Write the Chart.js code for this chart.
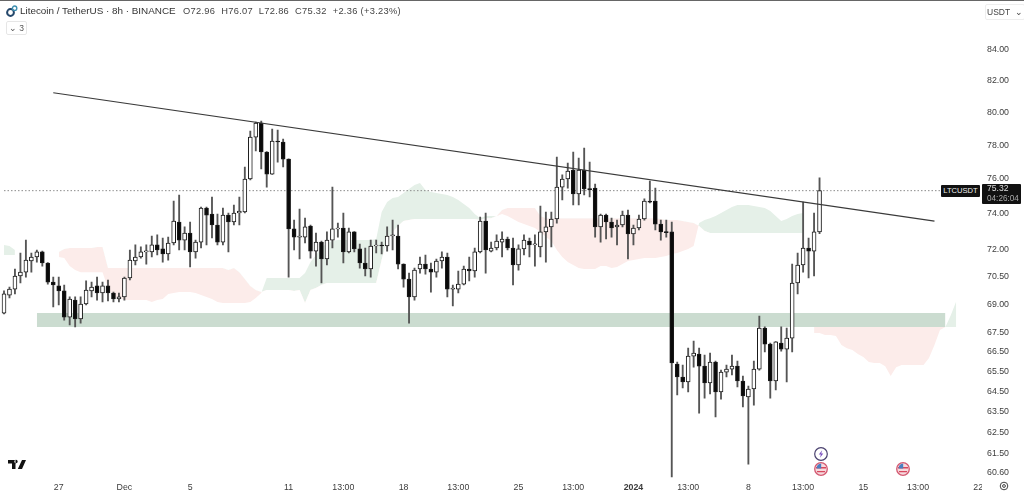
<!DOCTYPE html>
<html>
<head>
<meta charset="utf-8">
<title>LTCUSDT 8h</title>
<script src="https://cdn.jsdelivr.net/npm/chart.js@4/dist/chart.umd.js"></script>
<style>
    html, body { margin: 0; padding: 0; background: #fff; }
    #wrap { position: relative; width: 1024px; height: 494px; overflow: hidden; font-family: "Liberation Sans", sans-serif; color: #222; }
    #chart { position: absolute; left: 0; top: 0; }
    .abs { position: absolute; white-space: nowrap; }
    #topline { left: 0; top: 0; width: 1024px; height: 1px; background: #666; }
    #title { left: 20px; top: 4px; font-size: 9.9px; line-height: 14px; color: #333; }
    #ohlc { left: 183px; top: 5px; font-size: 9.3px; line-height: 13px; color: #444; letter-spacing: .3px; }
    #ohlc span { margin-right: 3px; }
    #collapse { left: 6px; top: 21px; width: 19px; height: 12px; border: 1px solid #e6e6e6; border-radius: 2px; font-size: 8.5px; line-height: 12px; color: #555; text-align: center; }
    #currency { left: 985px; top: 4px; width: 37px; height: 14px; border: 1px solid #eee; border-radius: 2px; font-size: 8.5px; line-height: 14px; color: #444; box-sizing: content-box; padding-left: 1px; }
    #sym-tag { left: 941px; top: 185px; width: 39px; height: 12px; background: #111; color: #eee; font-size: 7.6px; line-height: 12px; text-align: center; border-radius: 1px; }
    #px-tag { left: 982px; top: 184px; width: 39px; height: 20px; background: #111; color: #ddd; font-size: 8.6px; line-height: 9.5px; padding-left: 5px; box-sizing: border-box; border-radius: 1px; }
    #px-tag div:last-child { color: #aaa; font-size: 8.2px; }
    #axis-cover { left: 982px; top: 480px; width: 42px; height: 14px; background: #fff; }
    svg.abs { overflow: visible; }
</style>
</head>
<body>
<div id="wrap">
    <canvas id="chart" width="1024" height="494"></canvas>
    <div class="abs" id="topline"></div>
    <svg class="abs" style="left:6px;top:5px" width="12" height="12" viewBox="0 0 12 12">
        <circle cx="4.5" cy="7.5" r="3.4" fill="none" stroke="#24476b" stroke-width="2"/>
        <circle cx="8.6" cy="3.2" r="2.2" fill="none" stroke="#3d8fb0" stroke-width="1.4"/>
    </svg>
    <div class="abs" id="title">Litecoin / TetherUS · 8h · BINANCE</div>
    <div class="abs" id="ohlc"><span>O72.96</span> <span>H76.07</span> <span>L72.86</span> <span>C75.32</span> <span>+2.36 (+3.23%)</span></div>
    <div class="abs" id="collapse">&#8964; 3</div>
    <div class="abs" id="currency">USDT &nbsp;&#8964;</div>
    <div class="abs" id="sym-tag">LTCUSDT</div>
    <div class="abs" id="px-tag"><div>75.32</div><div>04:26:04</div></div>
    <div class="abs" id="axis-cover"></div>
    <!-- tradingview mark -->
    <svg class="abs" style="left:8px;top:460px" width="18" height="9" viewBox="0 0 18 9">
        <path d="M0 0h7.5v9H4V3.4H0zM8 3.2a1.7 1.7 0 1 0 0-3.4 1.7 1.7 0 0 0 0 3.4zM14 0h4l-4 9H9.8z" fill="#111"/>
    </svg>
    <!-- event markers -->
    <svg class="abs" style="left:813px;top:446px" width="16" height="16" viewBox="0 0 16 16">
        <circle cx="8" cy="8" r="6.3" fill="#fff" stroke="#4b4270" stroke-width="1.2"/>
        <path d="M9.2 4.2 5.8 8.6h2.1l-1 3.2 3.4-4.4H8.2z" fill="#7a4fc0"/>
    </svg>
    <svg class="abs" style="left:813px;top:461px" width="16" height="16" viewBox="0 0 16 16">
        <circle cx="8" cy="8" r="6.3" fill="#f6d9dd" stroke="#d45a72" stroke-width="1.3"/>
        <path d="M3 6h10v1.6H3z M4 10h8v1.3H4z" fill="#d8485f"/>
        <path d="M3.6 7.6a5 5 0 0 1 4.6-5v5z" fill="#4a7fc0"/>
    </svg>
    <svg class="abs" style="left:895px;top:461px" width="16" height="16" viewBox="0 0 16 16">
        <circle cx="8" cy="8" r="6.3" fill="#f6d9dd" stroke="#d45a72" stroke-width="1.3"/>
        <path d="M3 6h10v1.6H3z M4 10h8v1.3H4z" fill="#d8485f"/>
        <path d="M3.6 7.6a5 5 0 0 1 4.6-5v5z" fill="#4a7fc0"/>
    </svg>
    <svg class="abs" style="left:999px;top:481px" width="10" height="10" viewBox="0 0 10 10">
        <circle cx="5" cy="5" r="3.8" fill="none" stroke="#444" stroke-width="1"/>
        <circle cx="5" cy="5" r="1.4" fill="none" stroke="#444" stroke-width="1"/>
    </svg>
</div>
<script>
// 8h candles
const opens = [
    68.53,69.49,69.81,70.52,70.73,71.34,71.56,71.84,71.23,70.19,
    69.98,69.71,68.32,69.22,68.22,69.01,69.71,69.98,69.60,69.98,
    69.60,69.28,69.39,70.41,71.34,71.56,71.84,71.84,72.23,72.01,
    71.73,72.34,73.52,72.50,72.90,71.84,72.39,74.32,73.97,73.35,
    72.39,73.91,73.52,74.03,74.09,76.00,78.50,79.35,77.60,76.29,
    78.26,78.20,77.18,73.13,72.67,72.67,73.29,71.89,72.39,71.45,
    72.50,73.13,73.18,71.84,72.96,72.01,71.23,70.90,72.17,72.22,
    72.17,72.73,72.73,71.17,70.35,69.39,70.90,71.17,70.90,70.73,
    71.34,71.56,69.81,69.81,70.08,70.90,70.79,71.84,73.57,71.89,
    72.06,72.39,72.56,72.06,71.12,72.01,72.45,72.23,72.12,72.96,
    73.24,73.69,75.53,76.00,76.53,75.13,76.53,75.44,75.47,73.24,
    73.91,73.52,73.24,73.35,73.91,72.84,73.18,73.69,74.72,74.72,
    73.40,72.98,72.96,65.89,65.23,64.98,66.29,66.40,65.78,64.93,
    65.99,64.48,65.48,65.63,65.78,65.03,64.23,64.63,65.63,67.74,
    66.91,65.03,66.96,66.65,67.22,70.14,71.12,72.06,71.89,72.96
];
const highs = [
    69.71,69.92,70.90,71.78,72.50,71.78,71.95,71.89,71.25,70.46,
    70.46,70.03,69.39,69.39,69.39,70.25,70.19,70.46,70.19,70.30,
    69.65,69.60,70.46,71.95,72.23,72.12,72.23,72.73,72.79,72.62,
    72.67,74.72,75.07,73.24,73.52,72.50,74.37,74.37,74.95,73.97,
    74.32,74.03,74.49,74.95,76.71,78.87,79.42,79.48,77.62,78.99,
    78.93,78.38,77.20,73.63,74.26,73.74,73.35,72.90,72.45,72.96,
    75.53,73.46,74.03,73.18,72.98,72.28,72.06,72.50,72.50,72.39,
    73.24,73.63,73.35,71.19,70.68,70.95,71.56,71.67,71.23,71.45,
    71.84,71.78,70.03,70.79,71.06,71.56,72.06,73.80,74.03,72.39,
    72.79,72.96,72.67,72.62,72.23,72.79,72.62,72.79,74.43,74.09,
    74.09,77.30,76.24,76.94,77.60,77.24,77.84,77.00,75.71,73.97,
    73.97,73.74,73.63,74.14,74.20,73.35,73.91,74.84,75.88,75.47,
    73.63,73.63,73.52,65.99,65.84,66.70,67.07,66.70,66.35,66.45,
    66.04,65.58,65.84,66.35,66.04,65.28,64.78,66.04,68.37,67.80,
    66.96,67.04,67.80,67.74,71.17,71.78,74.66,72.62,74.03,76.07
];
const lows = [
    68.48,69.33,69.55,70.14,70.46,70.73,71.28,71.06,70.08,68.85,
    68.96,68.16,67.90,67.80,68.00,68.96,69.39,69.22,69.12,69.17,
    69.12,69.12,69.22,70.30,71.12,71.50,71.17,71.56,71.67,71.28,
    71.39,72.23,71.95,71.95,71.01,71.50,72.06,72.23,72.62,72.23,
    72.23,71.84,73.35,73.35,74.03,75.94,77.66,76.59,75.53,76.27,
    77.00,76.71,70.46,71.95,71.45,72.34,71.50,71.06,70.14,71.12,
    72.06,72.67,71.23,71.78,71.84,70.95,70.52,70.46,71.78,71.73,
    71.89,71.95,70.90,69.92,68.00,69.22,70.68,70.62,69.65,70.46,
    70.95,69.39,68.91,69.60,70.03,70.25,70.46,71.78,70.68,71.84,
    71.95,71.56,71.95,70.03,70.84,71.67,71.56,71.06,71.56,71.28,
    72.12,73.46,74.78,75.47,74.49,74.49,75.07,74.95,72.67,72.39,
    72.56,72.67,72.23,73.24,71.45,72.23,73.07,73.63,74.61,73.07,
    72.50,72.67,60.39,64.33,64.68,64.48,65.73,63.44,64.18,64.38,
    63.25,64.13,65.23,65.33,64.73,63.74,60.99,63.83,65.58,66.50,
    64.18,64.58,66.55,64.98,66.50,69.55,70.73,70.41,70.52,72.86
];
const closes = [
    69.55,69.81,70.52,70.73,71.39,71.56,71.84,71.23,70.19,70.03,
    69.71,68.32,69.28,68.22,69.01,69.76,69.92,69.60,69.98,69.60,
    69.28,69.39,70.41,71.39,71.56,71.84,71.90,72.23,71.95,71.73,
    72.34,73.57,72.50,72.90,71.84,72.39,74.32,73.91,73.35,72.39,
    73.91,73.52,74.03,74.14,76.00,78.50,79.35,77.60,76.29,78.26,
    78.20,77.18,73.13,72.67,72.73,73.24,71.89,72.39,71.45,72.50,
    73.13,73.18,71.84,72.96,72.01,71.23,70.90,72.17,72.22,72.17,
    72.73,72.79,71.17,70.35,69.39,70.84,71.17,70.90,70.73,71.34,
    71.56,69.81,69.87,70.08,70.90,70.79,71.84,73.57,71.95,72.06,
    72.45,72.56,72.06,71.12,72.01,72.50,72.23,72.29,72.96,73.24,
    73.69,75.53,76.00,76.47,75.13,76.53,75.42,75.38,73.24,73.91,
    73.52,73.18,73.35,73.91,72.84,73.18,73.69,74.72,74.66,73.40,
    72.96,72.92,65.94,65.23,64.98,66.29,66.45,65.78,64.93,65.99,
    64.48,65.48,65.63,65.78,65.03,64.28,64.63,65.63,67.74,66.91,
    65.03,67.02,66.65,67.22,70.14,71.12,72.06,71.89,72.96,75.32
];

// cloud edges, green where spanA is above spanB
const spanA = [
    72.23,72.17,71.95,null,null,null,null,null,null,null,
    71.56,71.50,71.06,70.84,70.73,70.73,70.73,70.73,70.73,69.87,
    69.44,69.33,69.22,69.22,69.22,69.22,69.22,69.12,69.22,69.28,
    69.55,69.60,69.65,69.65,69.65,69.60,69.49,69.39,69.28,69.12,
    69.06,69.06,69.06,69.06,69.06,69.12,69.33,69.60,70.41,70.41,
    70.41,70.41,70.41,70.41,70.41,70.68,71.28,71.67,72.06,72.34,
    72.45,72.50,72.50,72.50,72.50,72.50,72.50,72.50,72.56,74.09,
    74.66,74.90,74.95,75.19,75.42,75.65,75.77,75.36,75.24,75.19,
    75.13,75.07,74.95,74.78,74.55,74.32,73.97,73.74,73.86,73.86,
    73.86,73.97,73.86,73.69,73.52,73.40,73.29,73.18,72.96,72.67,
    72.45,71.95,71.56,71.28,71.12,70.95,70.90,70.90,70.90,71.06,
    71.06,70.95,71.01,71.17,71.34,71.39,71.45,71.50,71.50,71.50,
    71.56,71.62,71.73,71.78,71.89,72.01,72.17,73.46,73.63,73.74,
    73.86,74.03,74.20,74.37,74.49,74.49,74.49,74.43,74.37,74.32,
    74.14,73.86,73.57,73.69,73.86,73.97,74.03,null,67.48,67.48,
    67.38,67.38,67.33,66.86,66.70,66.60,66.40,66.24,65.99,65.94,
    65.94,65.78,65.28,65.73,65.84,65.84,65.84,65.84,65.84,66.19,
    66.86,67.64,67.80,68.43,69.17
];
const spanB = [
    71.67,71.67,71.67,null,null,null,null,null,null,null,
    71.84,72.01,72.06,72.06,72.06,72.06,72.06,72.12,72.12,70.95,
    70.95,70.95,70.95,70.95,70.95,70.95,70.95,70.95,70.95,70.95,
    70.95,70.95,70.95,70.95,70.95,70.95,70.95,70.95,70.95,70.95,
    70.95,70.84,70.95,70.73,70.35,69.98,69.76,69.65,69.76,69.76,
    69.76,69.76,69.76,69.71,69.76,69.06,69.76,69.87,70.03,70.14,
    70.14,70.14,70.14,70.14,70.14,70.14,70.14,70.14,70.14,71.39,
    72.50,72.96,73.29,73.57,73.63,73.69,73.69,73.69,73.69,73.69,
    73.69,73.69,73.69,73.69,73.69,73.69,73.69,73.63,73.74,73.74,
    73.86,74.20,74.32,74.32,74.32,74.32,74.32,74.32,73.86,73.74,
    73.74,73.74,73.74,73.74,73.74,73.74,73.74,73.74,73.74,73.74,
    73.74,73.74,73.74,73.74,73.74,73.74,73.74,73.74,73.74,73.74,
    73.69,73.63,73.63,73.63,73.57,73.52,73.46,73.29,73.01,72.90,
    72.90,72.90,72.90,72.90,72.90,72.90,72.90,72.90,72.90,72.90,
    72.90,72.90,72.90,72.90,72.90,72.90,72.90,null,68.27,68.27,
    68.27,68.27,68.27,68.27,68.27,68.27,68.27,68.27,68.27,68.27,
    68.27,68.27,68.27,68.27,68.27,68.27,68.27,68.27,68.27,68.27,
    68.27,68.27,67.80,67.80,67.80
];

const zoneHigh = 68.53;
const zoneLow = 67.80;
const zoneFrom = 6;
const zoneTo = 172;

const trendFrom = [9, 81.23];
const trendTo = [170, 73.57];
const lastClose = 75.32;
const priceLineEnd = 171;

const slotCount = 179;
const tickSlots = [10, 22, 34, 52, 62, 73, 83, 94, 104, 115, 125, 136, 146, 157, 167, 178];
const tickTexts = ['27', 'Dec', '5', '11', '13:00', '18', '13:00', '25', '13:00', '2024', '13:00', '8', '13:00', '15', '13:00', '22'];
const priceTicks = [84, 82, 80, 78, 76, 74, 72, 70.5, 69, 67.5, 66.5, 65.5, 64.5, 63.5, 62.5, 61.5, 60.6];

const slots = Array.from({ length: slotCount }, (_, i) => {
    const at = tickSlots.indexOf(i);
    return at >= 0 ? tickTexts[at] : '';
});
const inRange = (from, to, v) => slots.map((_, i) => (i >= from && i <= to ? v : null));
const trendData = slots.map((_, i) => (i === trendFrom[0] ? trendFrom[1] : i === trendTo[0] ? trendTo[1] : null));

const fontFamily = '"Liberation Sans", sans-serif';

new Chart(document.getElementById('chart'), {
    type: 'bar',
    data: {
        labels: slots,
        datasets: [
            {
                type: 'line', label: 'Span A', data: spanA, order: 10,
                borderWidth: 0, pointRadius: 0, tension: 0,
                fill: { target: '+1', above: '#e5f0e8', below: '#fcecea' }
            },
            { type: 'line', label: 'Span B', data: spanB, order: 10, borderWidth: 0, pointRadius: 0, tension: 0 },
            {
                type: 'line', label: 'Zone', data: inRange(zoneFrom, zoneTo, zoneHigh), order: 8,
                borderWidth: 0, pointRadius: 0, tension: 0,
                fill: { target: '+1', above: '#cbdcd0', below: '#cbdcd0' }
            },
            { type: 'line', label: 'Zone low', data: inRange(zoneFrom, zoneTo, zoneLow), order: 8, borderWidth: 0, pointRadius: 0, tension: 0 },
            {
                type: 'line', label: 'Last', data: inRange(0, priceLineEnd, lastClose), order: 6,
                borderColor: '#8a8a8a', borderWidth: 1, borderDash: [1.5, 2], pointRadius: 0
            },
            {
                label: 'Wick', data: highs.map((h, i) => [lows[i], h]), order: 4, grouped: false,
                backgroundColor: '#555', barThickness: 1.2
            },
            {
                label: 'Body', data: opens.map((o, i) => [Math.min(o, closes[i]), Math.max(o, closes[i])]), order: 3, grouped: false,
                backgroundColor: opens.map((o, i) => (closes[i] >= o ? '#fff' : '#0a0a0a')),
                borderColor: '#1a1a1a', borderWidth: 1, borderSkipped: false, barThickness: 4
            },
            {
                type: 'line', label: 'Trend', data: trendData, order: 1, spanGaps: true,
                borderColor: '#3a3a3a', borderWidth: 1.2, pointRadius: 0, tension: 0
            }
        ]
    },
    options: {
        responsive: false,
        animation: false,
        events: [],
        layout: { padding: { left: 0.5, top: 22 } },
        plugins: { legend: { display: false }, tooltip: { enabled: false } },
        scales: {
            x: {
                offset: true,
                grid: { display: false, drawTicks: false },
                border: { display: false },
                afterFit: scale => { scale.height = 16; },
                ticks: {
                    autoSkip: false, maxRotation: 0, padding: 4, color: '#3c3c3c',
                    font: ctx => ({ family: fontFamily, size: 8.8, weight: ctx.tick && ctx.tick.label === '2024' ? 'bold' : 'normal' })
                }
            },
            y: {
                type: 'logarithmic',
                position: 'right',
                min: 60.34,
                max: 85.79,
                grid: { display: false, drawTicks: false },
                border: { display: false },
                afterBuildTicks: scale => { scale.ticks = priceTicks.map(value => ({ value })); },
                afterFit: scale => { scale.width = 43; },
                ticks: {
                    autoSkip: false, padding: 6, align: 'center', crossAlign: 'near', color: '#3c3c3c',
                    font: { family: fontFamily, size: 8.8 },
                    callback: v => Number(v).toFixed(2)
                }
            }
        }
    }
});
</script>
</body>
</html>
